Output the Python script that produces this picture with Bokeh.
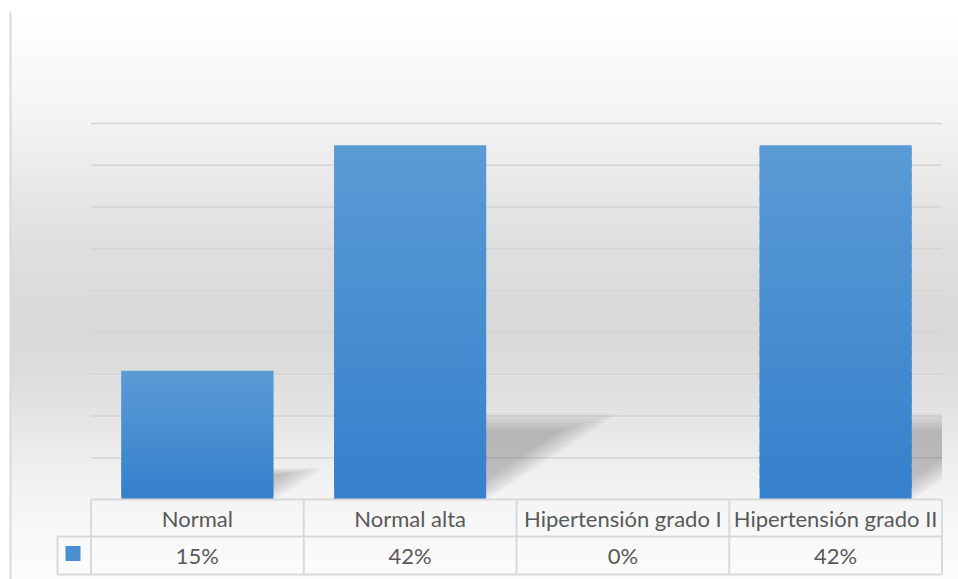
import numpy as np
from bokeh.plotting import figure
from bokeh.models import Range1d
from bokeh.core.properties import value
from bokeh.embed import file_html
from bokeh.resources import INLINE

# ---------------- data ----------------
categories = ["Normal", "Normal alta", "Hipertensión grado I", "Hipertensión grado II"]
percentages = [15.4, 42.4, 0.0, 42.4]
value_labels = ["15%", "42%", "0%", "42%"]
grid_ticks = [5, 10, 15, 20, 25, 30, 35, 40, 45]

# ---------------- layout constants (pixels) ----------------
W, H = 958, 579
PX0, PX1 = 90.5, 941.5      # plot area left / right
PY0, PY45 = 499.0, 123.0    # pixel rows of 0 % and 45 %
NCAT = len(categories)
COL = (PX1 - PX0) / NCAT
YPX = (PY0 - PY45) / 45.0
BAR_W = 152 / COL


def dx(px):
    return (np.asarray(px, dtype=float) - PX0) / COL


def dy(py):
    return (PY0 - np.asarray(py, dtype=float)) / YPX


p = figure(width=W, height=H,
           x_range=Range1d(float(dx(0)), float(dx(W))),
           y_range=Range1d(float(dy(H)), float(dy(0))),
           output_backend="svg", toolbar_location=None,
           x_axis_location=None, y_axis_location=None,
           min_border=0, outline_line_color=None)
p.grid.visible = False
p.background_fill_color = "white"
p.border_fill_color = "white"

# ---------------- background vertical gradient ----------------
stops_y = [12, 40, 100, 150, 200, 250, 300, 340, 380, 420, 460, 499, 540, 579]
stops_g = [255, 252, 246, 238, 229, 222, 218, 217, 221, 229, 237, 244, 249, 252]
ys = np.arange(12, H, 3)
g = np.interp(ys + 1.5, stops_y, stops_g).round().astype(int)
bg_cols = ["#%02x%02x%02x" % (v, v, v) for v in g]
p.quad(left=float(dx(10)), right=float(dx(W)), top=dy(ys), bottom=dy(ys + 3),
       fill_color=bg_cols, line_color=bg_cols, line_width=0.6)

# left frame line
p.segment(x0=[float(dx(10))], x1=[float(dx(10))], y0=[float(dy(12))], y1=[float(dy(H))],
          line_color="#d9d9d9", line_width=2)

# ---------------- gridlines ----------------
p.segment(x0=[0] * len(grid_ticks), x1=[NCAT] * len(grid_ticks), y0=grid_ticks, y1=grid_ticks,
          line_color="#d4d4d4", line_width=1.5)


# ---------------- soft shadows ----------------
def clip_x(pts, X):
    out = []
    n = len(pts)
    for k in range(n):
        a, b = pts[k], pts[(k + 1) % n]
        ain, bin_ = a[0] <= X, b[0] <= X
        if ain:
            out.append(a)
        if ain != bin_:
            t = (X - a[0]) / (b[0] - a[0])
            out.append(a + (b - a) * t)
    return np.array(out)


sh_xs, sh_ys = [], []
for i, v in enumerate(percentages):
    if v <= 0:
        continue
    xr = i + 0.5 + BAR_W / 2
    t = 0.24 * v
    s = 1.5 * t * YPX / COL
    base = np.array([[xr - BAR_W, 0.0], [xr, 0.0], [xr + s, t], [xr + s - BAR_W, t]])
    c = base.mean(axis=0)
    for f in [1.04, 0.98, 0.92, 0.86, 0.80, 0.74, 0.68, 0.62]:
        pts = c + (base - c) * f
        pts[:, 1] = np.clip(pts[:, 1], 0, None)
        pts = clip_x(pts, NCAT)
        sh_xs.append(list(pts[:, 0]))
        sh_ys.append(list(pts[:, 1]))
p.patches(xs=sh_xs, ys=sh_ys, fill_color="black", fill_alpha=0.027, line_color=None)

# ---------------- bars with vertical gradient ----------------
NS = 30
bot_rgb = np.array([53, 128, 204])
top_rgb = np.array([91, 155, 213])
bx, bb, bt, bc = [], [], [], []
for i, v in enumerate(percentages):
    if v <= 0:
        continue
    for k in range(NS):
        fr = (k + 0.5) / NS
        rgb = (bot_rgb + (top_rgb - bot_rgb) * fr).round().astype(int)
        bx.append(i + 0.5)
        bb.append(v * k / NS)
        bt.append(min(v, v * (k + 1.8) / NS))
        bc.append("#%02x%02x%02x" % tuple(rgb))
p.vbar(x=bx, bottom=bb, top=bt, width=BAR_W, fill_color=bc, line_color=None)

# ---------------- data table ----------------
tbl_col = "#d9d9d9"
row1, row2 = float(dy(536)), float(dy(574))
leg_left = float(dx(57))
hx0 = [0, leg_left, leg_left]
hx1 = [NCAT, NCAT, NCAT]
hy = [0, row1, row2]
p.segment(x0=hx0, x1=hx1, y0=hy, y1=hy, line_color=tbl_col, line_width=2)
vx = list(range(NCAT + 1))
p.segment(x0=vx, x1=vx, y0=[0] * len(vx), y1=[row2] * len(vx), line_color=tbl_col, line_width=2)
p.segment(x0=[leg_left], x1=[leg_left], y0=[row1], y1=[row2], line_color=tbl_col, line_width=2)

cx = [i + 0.5 for i in range(NCAT)]
p.text(x=cx, y=[float(dy(518))] * NCAT, text=categories,
       text_font=value("Lato"), text_font_size="22px", text_color="#595959",
       text_align="center", text_baseline="middle")
p.text(x=cx, y=[float(dy(555))] * NCAT, text=value_labels,
       text_font=value("Lato"), text_font_size="22px", text_color="#595959",
       text_align="center", text_baseline="middle")

# legend key
p.rect(x=[float(dx(72.5))], y=[float(dy(553))], width=15, height=15,
       width_units="screen", height_units="screen",
       fill_color="#4a8fd2", line_color=None)

open("out.html", "w").write(file_html(p, INLINE))
